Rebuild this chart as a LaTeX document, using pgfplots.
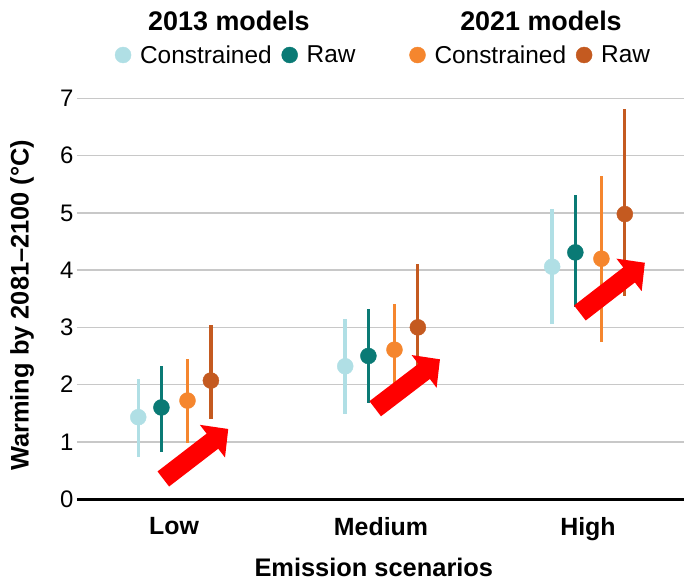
\documentclass[border=0pt]{standalone}
\usepackage{fontspec}
\setmainfont{Liberation Sans}
\usepackage{pgfplots}
\usepackage{pgfplotstable}
\pgfplotsset{compat=1.18}
\usetikzlibrary{arrows.meta}
\definecolor{cLight}{RGB}{176,223,229}
\definecolor{cTeal}{RGB}{10,122,117}
\definecolor{cOrange}{RGB}{245,134,46}
\definecolor{cBrown}{RGB}{196,90,32}
\definecolor{cGrid}{RGB}{200,200,200}

\pgfplotstableread{
x y em ep
-0.173 1.43 0.69 0.67
0.827 2.32 0.84 0.83
1.827 4.06 1.01 1.01
}\lightdata
\pgfplotstableread{
x y em ep
-0.061 1.60 0.77 0.73
0.939 2.50 0.82 0.82
1.939 4.31 0.96 1.00
}\tealdata
\pgfplotstableread{
x y em ep
0.065 1.72 0.74 0.72
1.065 2.61 0.81 0.80
2.065 4.20 1.46 1.45
}\orangedata
\pgfplotstableread{
x y em ep
0.178 2.07 0.67 0.97
1.178 3.00 0.75 1.10
2.178 4.98 1.44 1.83
}\browndata

\begin{document}
\begin{tikzpicture}
\begin{axis}[
  scale only axis, width=607bp, height=400.5bp,
  xmin=-0.469, xmax=2.464, ymin=0, ymax=7,
  axis x line*=bottom, axis y line*=left,
  x axis line style={black, line width=3bp, -},
  y axis line style={draw=none},
  ytick={0,1,...,7}, xtick={0,1,2}, xticklabels={Low,Medium,High},
  major tick length=0pt,
  ymajorgrids, grid style={cGrid, line width=1.5bp},
  tick label style={font=\fontsize{24}{28}\selectfont},
  xticklabel style={font=\fontsize{25}{30}\selectfont\bfseries, yshift=-15bp},
  /pgf/number format/assume math mode=true,
  xlabel={Emission scenarios},
  ylabel={Warming by 2081–2100 (°C)},
  label style={font=\fontsize{25.5}{30}\selectfont\bfseries},
  xlabel style={at={(rel axis cs:0.489,-0.1698)}, anchor=center},
  ylabel style={at={(rel axis cs:-0.0906,0.484)}, anchor=center},
  clip=false,
  legend columns=4,
  legend style={draw=none, fill=none, at={(rel axis cs:0.5058,1.1086)}, anchor=center,
    font=\fontsize{24.5}{28}\selectfont, nodes={inner xsep=3bp, inner ysep=1bp},
    /tikz/every odd column/.append style={column sep=6bp},
    /tikz/every even column/.append style={column sep=7bp}},
  legend image code/.code={\draw[#1] plot coordinates {(0bp,0bp)};},
]
\addplot[only marks, mark=*, mark size=8bp, color=cLight,
  error bars/.cd, y dir=both, y explicit, error mark=none,
  error bar style={line width=3.5bp, color=cLight}]
  table[x=x, y=y, y error plus=ep, y error minus=em] {\lightdata};
\addplot[only marks, mark=*, mark size=8bp, color=cTeal,
  error bars/.cd, y dir=both, y explicit, error mark=none,
  error bar style={line width=3.5bp, color=cTeal}]
  table[x=x, y=y, y error plus=ep, y error minus=em] {\tealdata};
\addplot[only marks, mark=*, mark size=8bp, color=cOrange,
  error bars/.cd, y dir=both, y explicit, error mark=none,
  error bar style={line width=3.2bp, color=cOrange}]
  table[x=x, y=y, y error plus=ep, y error minus=em] {\orangedata};
\addplot[only marks, mark=*, mark size=8bp, color=cBrown,
  error bars/.cd, y dir=both, y explicit, error mark=none,
  error bar style={line width=3.2bp, color=cBrown}]
  table[x=x, y=y, y error plus=ep, y error minus=em] {\browndata};
\legend{Constrained, Raw\hspace*{44bp}, Constrained, Raw}

\node[font=\fontsize{27}{32}\selectfont\bfseries] at (rel axis cs:0.2504,1.1935) {2013 models};
\node[font=\fontsize{27}{32}\selectfont\bfseries] at (rel axis cs:0.7644,1.1935) {2021 models};

\draw[red, line width=19bp, -{Triangle[width=40bp,length=20bp]}] (axis cs:-0.052,0.350) -- (axis cs:0.262,1.224);
\draw[red, line width=19bp, -{Triangle[width=40bp,length=20bp]}] (axis cs:0.972,1.578) -- (axis cs:1.285,2.442);
\draw[red, line width=19bp, -{Triangle[width=40bp,length=20bp]}] (axis cs:1.961,3.251) -- (axis cs:2.275,4.130);
\end{axis}
\pgfresetboundingbox
\useasboundingbox (-77bp,-87bp) rectangle (607bp,499bp);
\end{tikzpicture}
\end{document}
